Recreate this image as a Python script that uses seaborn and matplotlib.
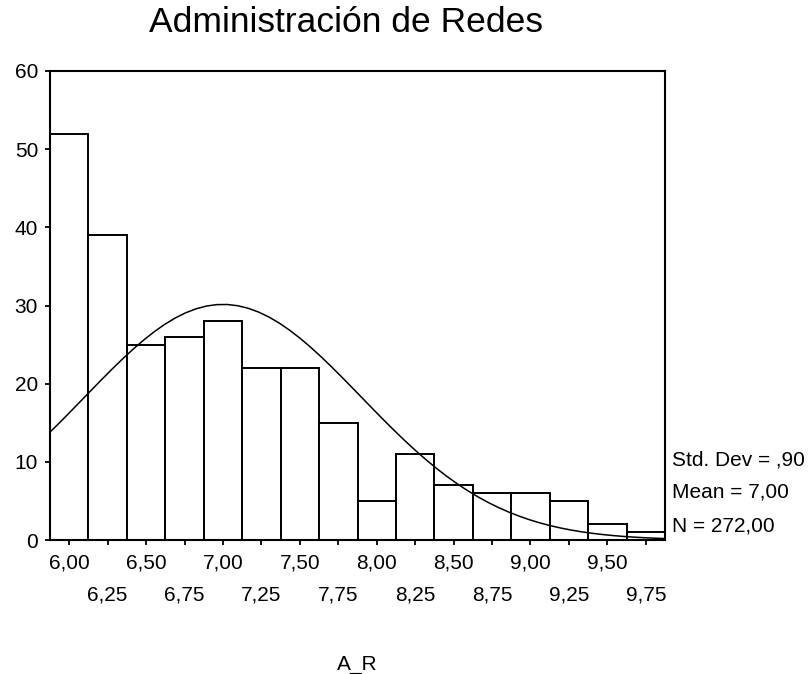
"""SPSS style histogram of A_R with fitted normal curve"""

import matplotlib
matplotlib.use("Agg")
import matplotlib.pyplot as plt
import seaborn as sns
import pandas as pd
import numpy as np

# bin centres and counts
bin_centers = [6.00, 6.25, 6.50, 6.75, 7.00, 7.25, 7.50, 7.75,
               8.00, 8.25, 8.50, 8.75, 9.00, 9.25, 9.50, 9.75]
counts = [52, 39, 25, 26, 28, 22, 22, 15, 5, 11, 7, 6, 6, 5, 2, 1]

# summary stats printed on the chart
std_dev = 0.90
mean = 7.00
n_total = 272.00
bin_width = 0.25

title = "Administración de Redes"
x_label = "A_R"

sns.set_style("ticks")
plt.rcParams['font.family'] = ['Liberation Sans', 'DejaVu Sans']
plt.rcParams['text.color'] = 'black'
plt.rcParams['axes.labelcolor'] = 'black'
plt.rcParams['xtick.color'] = 'black'
plt.rcParams['ytick.color'] = 'black'

data = pd.DataFrame({"A_R": bin_centers, "count": counts})
edges = [c - bin_width / 2 for c in bin_centers] + [bin_centers[-1] + bin_width / 2]

fig = plt.figure(figsize=(8.09, 6.74), dpi=100)
ax = fig.add_axes([50 / 809, 1 - 540 / 674, 615 / 809, 469 / 674])

sns.histplot(data=data, x="A_R", weights="count", bins=edges, color="white",
             edgecolor="black", linewidth=1.4, alpha=1, ax=ax)

# normal curve scaled to counts
curve_x = np.linspace(edges[0], edges[-1], 60)
curve_y = n_total * bin_width * np.exp(-0.5 * ((curve_x - mean) / std_dev) ** 2) / (std_dev * np.sqrt(2 * np.pi))
sns.lineplot(x=curve_x, y=curve_y, color="black", linewidth=1.1, ax=ax)

ax.set_xlim(edges[0], edges[-1])
ax.set_ylim(0, 60)
ax.set_yticks(range(0, 61, 10))
ax.set_ylabel("")

fmt = lambda v: "{:.2f}".format(v).replace(".", ",")
major = bin_centers[0::2]
minor = bin_centers[1::2]
ax.set_xticks(major)
ax.set_xticklabels([fmt(v) for v in major])
ax.set_xticks(minor, minor=True)
ax.set_xticklabels([fmt(v) for v in minor], minor=True)

ax.tick_params(axis="x", which="major", direction="out", length=3.6, width=1.3,
               labelsize=15, pad=6, colors="black")
ax.tick_params(axis="x", which="minor", direction="out", length=3.6, width=1.3,
               labelsize=15, pad=29, colors="black")
ax.tick_params(axis="y", direction="out", length=3.6, width=1.3, labelsize=15,
               pad=5, colors="black")

for s in ax.spines.values():
    s.set_visible(True)
    s.set_linewidth(1.5)
    s.set_color("black")

ax.set_xlabel(x_label, fontsize=15)
ax.xaxis.set_label_coords(0.5, -(665 - 540) / 469)
ax.xaxis.label.set_va("center")

fig.text(346 / 809, 1 - 32 / 674, title, fontsize=25.5, ha="center", va="baseline")

stats = ["Std. Dev = " + fmt(std_dev)[1:], "Mean = " + fmt(mean), "N = " + fmt(n_total)]
for txt, yb in zip(stats, [465, 498, 532]):
    fig.text(672 / 809, 1 - yb / 674, txt, fontsize=15, ha="left", va="baseline")

fig.savefig("out.png", dpi=100)
